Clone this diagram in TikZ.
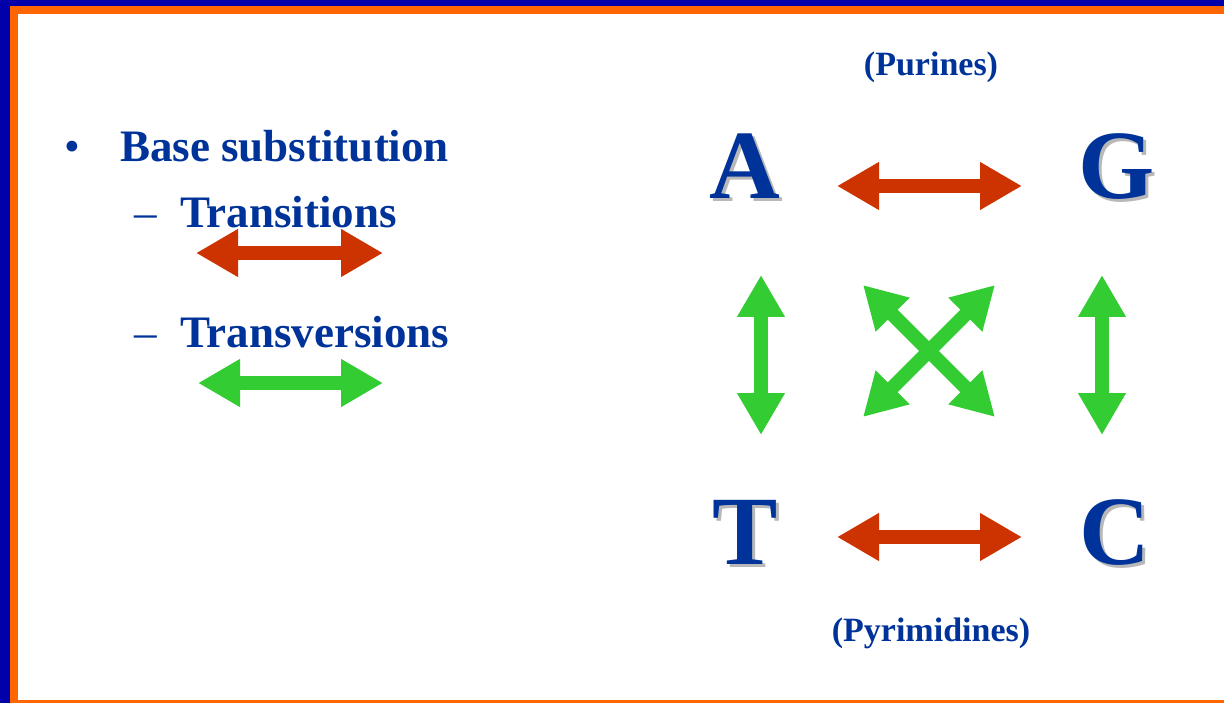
\documentclass[tikz,border=0pt]{standalone}
\usepackage{fontspec}
\setmainfont{Liberation Serif}
\usetikzlibrary{arrows.meta}
\definecolor{bordblue}{HTML}{0000AA}
\definecolor{bordorange}{HTML}{FF6600}
\definecolor{txtblue}{HTML}{003399}
\definecolor{redarr}{HTML}{CC3300}
\definecolor{greenarr}{HTML}{33CC33}
\newcommand{\shadowed}[1]{\rlap{\hspace{3pt}\raisebox{-3pt}{\color{black!28}#1}}#1}
\tikzset{
  body/.style={font=\fontsize{45}{45}\selectfont\bfseries, text=txtblue, inner sep=0pt, anchor=base west},
  bulletmark/.style={font=\fontsize{45}{45}\selectfont, text=txtblue, inner sep=0pt, anchor=base west},
  lab/.style={font=\fontsize{34}{34}\selectfont\bfseries, text=txtblue, inner sep=0pt, anchor=base},
  big/.style={font=\fontsize{98}{98}\selectfont\bfseries, text=txtblue, inner sep=0pt, anchor=base},
  dbl/.style={line width=14pt, >={Triangle[length=42pt,width=45pt]}, <->},
  transition/.style={dbl, draw=redarr, fill=redarr},
  transversion/.style={dbl, draw=greenarr, fill=greenarr}
}
\begin{document}
\begin{tikzpicture}[x=1pt,y=-1pt]
\useasboundingbox (0,0) rectangle (1224,703);
% frame
\fill[bordblue] (0,0) rectangle (1224,703);
\fill[bordorange] (10,6) rectangle (1224,703);
\fill[white] (18,14) rectangle (1224,700);

% left text
\node[bulletmark] (bul) at (64,162) {•};
\node[body] (base) at (120,162) {Base substitution};
\node[bulletmark] (d1) at (134,228) {–};
\node[body] (trs) at (180,228) {Transitions};
\node[bulletmark] (d2) at (134,348) {–};
\node[body] (trv) at (180,348) {Transversions};

% legend arrows
\coordinate (lr1) at (196,253);
\coordinate (lr2) at (383,253);
\coordinate (lg1) at (198,383);
\coordinate (lg2) at (383,383);
\draw[transition] (lr1) -- (lr2);
\draw[transversion] (lg1) -- (lg2);

% labels
\node[lab] (pur) at (931,76) {(Purines)};
\node[lab] (pyr) at (931,641) {(Pyrimidines)};

% big letters with shadow
\node[big] (A) at (745,199) {\shadowed{A}};
\node[big] (G) at (1117,199) {\shadowed{G}};
\node[big] (T) at (745,564) {\shadowed{T}};
\node[big] (C) at (1115,564) {\shadowed{C}};

% arrow end points
\coordinate (ag1) at (837,186);
\coordinate (ag2) at (1022,186);
\coordinate (tc1) at (837,537);
\coordinate (tc2) at (1022,537);
\coordinate (at1) at (761,275);
\coordinate (at2) at (761,435);
\coordinate (gc1) at (1102,275);
\coordinate (gc2) at (1102,435);
\coordinate (x1) at (863,285);
\coordinate (x2) at (995,417);
\coordinate (x3) at (995,285);
\coordinate (x4) at (863,417);

\draw[transition] (ag1) -- (ag2);
\draw[transition] (tc1) -- (tc2);
\draw[transversion] (at1) -- (at2);
\draw[transversion] (gc1) -- (gc2);
\draw[transversion] (x1) -- (x2);
\draw[transversion] (x3) -- (x4);
\end{tikzpicture}
\end{document}
